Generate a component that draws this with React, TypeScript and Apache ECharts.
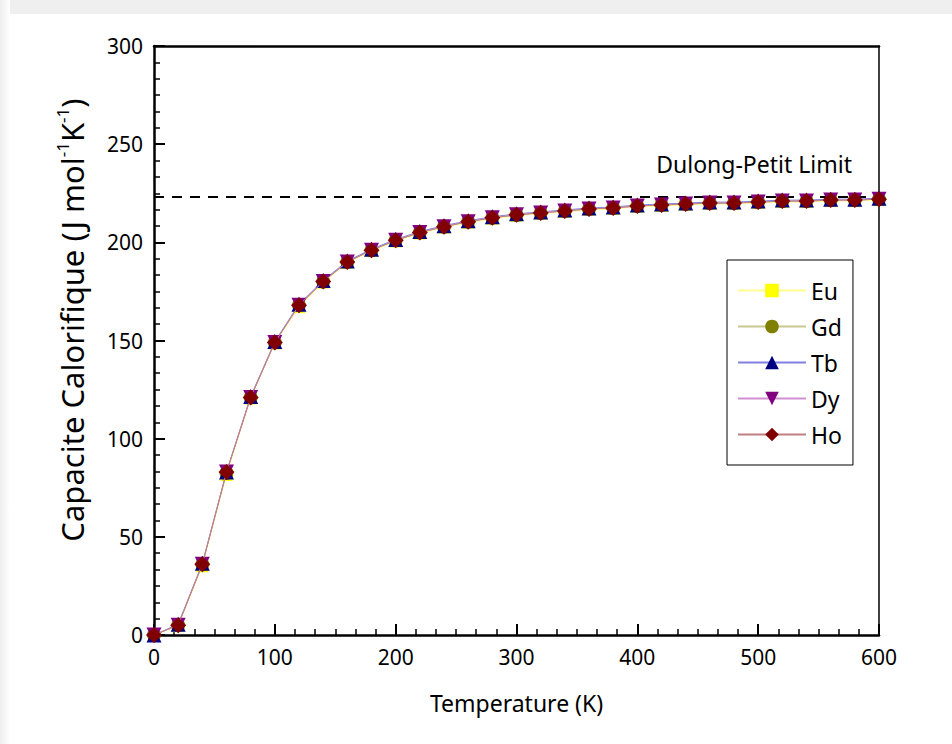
import React, { useEffect, useRef } from "react";
import * as echarts from "echarts";

const temperatures = [0, 20, 40, 60, 80, 100, 120, 140, 160, 180, 200, 220, 240, 260, 280, 300, 320, 340, 360, 380, 400, 420, 440, 460, 480, 500, 520, 540, 560, 580, 600];
const euValues = [0, 4.5, 35, 81.5, 120.5, 148.5, 167, 179.5, 189.5, 195.5, 200.5, 204.5, 207.5, 210, 212, 213.5, 214.5, 215.5, 216.5, 217, 218, 218.5, 219, 219.5, 219.5, 220, 220.5, 220.5, 221, 221, 221.5];
const gdValues = [0, 5, 36, 82.5, 121, 149, 168, 180, 190, 196, 201, 205, 208, 210.5, 212.5, 214, 215, 216, 217, 217.5, 218.5, 219, 219.5, 220, 220, 220.5, 221, 221, 221.5, 221.5, 222];
const tbValues = [0, 5.5, 36.5, 83, 121.5, 149.5, 168.5, 180.5, 190.5, 196.5, 201.5, 205.5, 208.5, 211, 213, 214.5, 215.5, 216.5, 217.5, 218, 219, 219.5, 220, 220.5, 220.5, 221, 221.5, 221.5, 222, 222, 222.5];
const dyValues = [0, 5, 36, 83, 121, 149, 168, 180, 190, 196, 201, 205, 208, 210.5, 212.5, 214, 215, 216, 217, 217.5, 218.5, 219, 219.5, 220, 220, 220.5, 221, 221, 221.5, 221.5, 222];
const hoValues = [0, 5, 36, 83, 121, 149, 168, 180, 190, 196, 201, 205, 208, 210.5, 212.5, 214, 215, 216, 217, 217.5, 218.5, 219, 219.5, 220, 220, 220.5, 221, 221, 221.5, 221.5, 222];
const dulongPetit = 223;

const seriesNames = ["Eu", "Gd", "Tb", "Dy", "Ho"];
const seriesValues = [euValues, gdValues, tbValues, dyValues, hoValues];
const markerColors = ["#ffff00", "#808000", "#000080", "#800080", "#800000"];
const lineColors = ["#ffff90", "#c8c890", "#8080e0", "#d090d0", "#c08080"];
const symbols = ["rect", "circle", "triangle", "triangle", "diamond"];
const symbolRotates = [0, 0, 0, 180, 0];
const symbolSizes = [12, 14, 15, 15, 16];

const FONT = "Noto Sans";
const NUMFONT = "'Liberation Sans Narrow', 'Noto Sans'";

export default function App() {
  const ref = useRef<HTMLDivElement>(null);
  useEffect(() => {
    if (!ref.current) return;
    const chart = echarts.init(ref.current, null, { renderer: "svg" });
    const series: any[] = seriesNames.map((name, i) => ({
      name,
      type: "line",
      data: temperatures.map((t, j) => [t, seriesValues[i][j]]),
      symbol: symbols[i],
      symbolRotate: symbolRotates[i],
      symbolSize: symbolSizes[i],
      showAllSymbol: true,
      itemStyle: { color: markerColors[i] },
      lineStyle: { color: lineColors[i], width: 1 },
      z: 2 + i,
    }));
    series[4].markLine = {
      silent: true,
      symbol: "none",
      label: { show: false },
      lineStyle: { color: "#000", type: [10, 8], width: 2 },
      data: [{ yAxis: dulongPetit }],
    };
    chart.setOption({
      animation: false,
      backgroundColor: "#fff",
      textStyle: { fontFamily: FONT },
      grid: { left: 154, right: 73, top: 46, bottom: 109 },
      legend: {
        orient: "vertical",
        left: 727,
        top: 260,
        data: seriesNames,
        borderColor: "#000",
        borderWidth: 1,
        padding: [19, 11, 19, 10],
        itemWidth: 68,
        itemHeight: 17,
        itemGap: 13,
        textStyle: { fontSize: 23, color: "#000", fontFamily: FONT },
      },
      xAxis: [
        {
          type: "value",
          min: 0,
          max: 600,
          interval: 100,
          position: "bottom",
          name: "Temperature (K)",
          nameLocation: "middle",
          nameGap: 56,
          nameTextStyle: { fontSize: 23, color: "#000", fontFamily: FONT },
          axisLine: { show: true, onZero: false, lineStyle: { color: "#000", width: 2.5 } },
          axisTick: { show: true, inside: true, length: 11, lineStyle: { color: "#000", width: 2 } },
          minorTick: { show: true, splitNumber: 6, length: 6, lineStyle: { color: "#000", width: 1.5 } },
          axisLabel: { fontSize: 21, color: "#000", margin: 11, fontFamily: NUMFONT },
          splitLine: { show: false },
        },
        {
          type: "value",
          min: 0,
          max: 600,
          position: "top",
          axisLine: { show: true, onZero: false, lineStyle: { color: "#000", width: 2.5 } },
          axisTick: { show: false },
          axisLabel: { show: false },
          splitLine: { show: false },
        },
      ],
      yAxis: [
        {
          type: "value",
          min: 0,
          max: 300,
          interval: 50,
          position: "left",
          axisLine: { show: true, onZero: false, lineStyle: { color: "#000", width: 2.5 } },
          axisTick: { show: true, inside: true, length: 11, lineStyle: { color: "#000", width: 2 } },
          minorTick: { show: true, splitNumber: 6, length: 6, lineStyle: { color: "#000", width: 1.5 } },
          axisLabel: { fontSize: 21, color: "#000", margin: 11, fontFamily: NUMFONT },
          splitLine: { show: false },
        },
        {
          type: "value",
          min: 0,
          max: 300,
          position: "right",
          axisLine: { show: true, onZero: false, lineStyle: { color: "#000", width: 1.5 } },
          axisTick: { show: false },
          axisLabel: { show: false },
          splitLine: { show: false },
        },
      ],
      graphic: [
        { type: "rect", left: 0, top: 0, shape: { width: 952, height: 14 }, style: { fill: "#efefef" }, silent: true },
        {
          type: "rect", left: 0, top: 0, shape: { width: 10, height: 744 }, silent: true,
          style: { fill: new echarts.graphic.LinearGradient(0, 0, 1, 0, [{ offset: 0, color: "#eeeeee" }, { offset: 1, color: "#ffffff" }]) },
        },
        {
          type: "text",
          x: 72,
          y: 320,
          rotation: Math.PI / 2,
          style: {
            text: "{a|Capacite Calorifique (J mol}{s|-1}{a|K}{s|-1}{a|)}",
            align: "center",
            verticalAlign: "middle",
            fill: "#000",
            rich: {
              a: { fontSize: 31, fontFamily: FONT, fill: "#000", lineHeight: 36 },
              s: { fontSize: 17, fontFamily: FONT, fill: "#000", verticalAlign: "top" },
            },
          },
        },
        {
          type: "text",
          x: 852,
          y: 164,
          style: { text: "Dulong-Petit Limit", align: "right", verticalAlign: "middle", fontSize: 23, fontFamily: FONT, fill: "#000" },
        },
      ],
      series,
    });
    return () => chart.dispose();
  }, []);
  return <div ref={ref} style={{ position: "fixed", left: 0, top: 0, width: 952, height: 744 }} />;
}
